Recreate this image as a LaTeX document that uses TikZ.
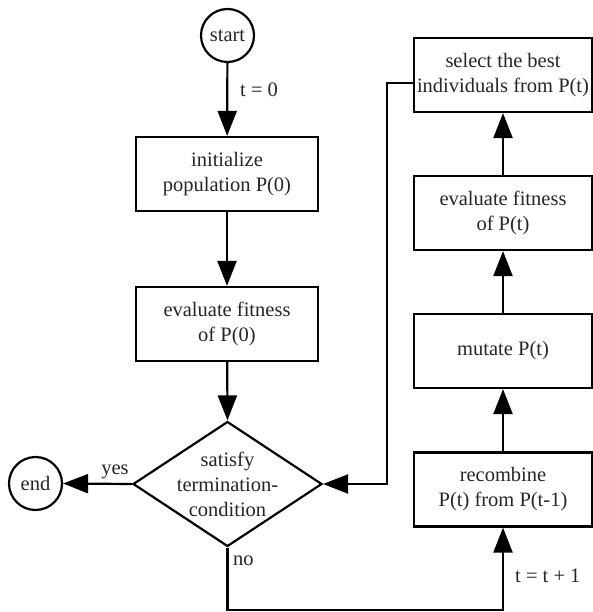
\documentclass[tikz,border=0pt]{standalone}
\usepackage{fontspec}
\setmainfont{Liberation Serif}
\usetikzlibrary{arrows.meta,shapes.geometric,calc}
\begin{document}
\begin{tikzpicture}[x=1pt,y=1pt,
  every node/.style={font=\fontsize{20.5}{25}\selectfont, text=black!85},
  box/.style={draw, line width=2.2pt, rectangle, minimum width=182pt, minimum height=74pt, inner sep=0pt, align=center},
  rbox/.style={box, minimum width=178pt},
  term/.style={draw, line width=2.2pt, circle, minimum size=53pt, inner sep=0pt},
  dec/.style={draw, line width=2.2pt, diamond, minimum width=189pt, minimum height=125pt, inner sep=0pt},
  conn/.style={line width=2.2pt, -{Triangle[length=25pt,width=19pt]}},
  lbl/.style={inner sep=0pt, anchor=west}
]
\useasboundingbox (0,0) rectangle (593,-612);
\fill[white] (0,0) rectangle (593,-612);

\node[term] (start) at (227.5,-35.5) {start};
\node[box] (init) at (227,-174) {initialize\\population P(0)};
\node[box] (eval0) at (227,-324) {evaluate fitness\\of P(0)};
\node[dec] (cond) at (227.5,-484) {};
\node[align=center, inner sep=0pt] (condtext) at (227.5,-484) {satisfy\\termination-\\condition};
\node[term] (end) at (35.5,-483.5) {end};

\node[rbox] (sel) at (503,-75) {select the best\\individuals from P(t)};
\node[rbox] (evalt) at (503,-213) {evaluate fitness\\of P(t)};
\node[rbox] (mut) at (503,-351) {mutate P(t)};
\node[rbox] (rec) at (503,-489.5) {recombine\\P(t) from P(t-1)};

\coordinate (bot) at (227.5,-610);
\coordinate (loopx) at (387,-484);

\draw[conn] (start) -- (init);
\draw[conn] (init) -- (eval0);
\draw[conn] (eval0) -- (cond.north);
\draw[conn] (cond.west) -- (end.east);
\draw[conn] (cond.south) -- (bot) -| (rec.south);
\draw[conn] (rec) -- (mut);
\draw[conn] (mut) -- (evalt);
\draw[conn] (evalt) -- (sel);
\draw[conn] ([yshift=-8pt]sel.west) -| (loopx) -- (cond.east);

\node[lbl] (t0) at (240,-90) {t = 0};
\node[lbl, anchor=south] (yes) at (115,-479) {yes};
\node[lbl] (no) at (233,-561) {no};
\node[lbl] (tt) at (515,-576) {t = t + 1};
\end{tikzpicture}
\end{document}
